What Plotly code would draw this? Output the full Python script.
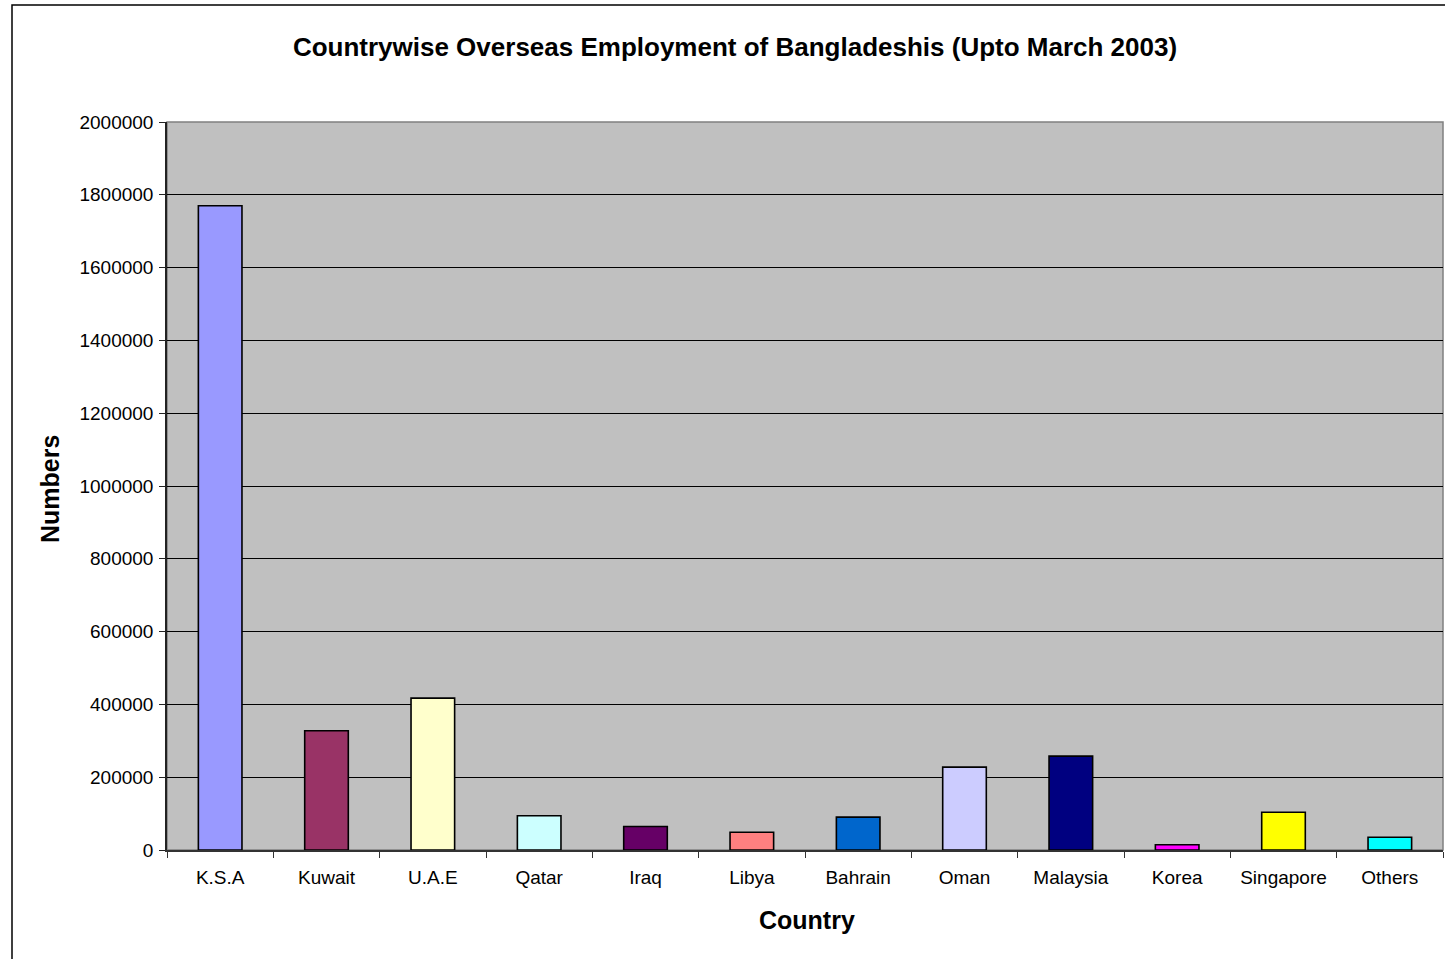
import plotly.graph_objects as go

countries = ["K.S.A", "Kuwait", "U.A.E", "Qatar", "Iraq", "Libya", "Bahrain",
             "Oman", "Malaysia", "Korea", "Singapore", "Others"]
numbers = [1770000, 327700, 417300, 94000, 64600, 48900, 90200,
           227600, 257900, 14300, 103900, 35200]
bar_colors = ["#9999FF", "#993366", "#FFFFCC", "#CCFFFF", "#660066", "#FF8080",
              "#0066CC", "#CCCCFF", "#000080", "#FF00FF", "#FFFF00", "#00FFFF"]
y_ticks = [0, 200000, 400000, 600000, 800000, 1000000, 1200000,
           1400000, 1600000, 1800000, 2000000]

W, H = 1445, 959
L, R, T, B = 167, 2, 122, 109
pw = W - L - R
ph = H - T - B

def px_x(x):
    return (x - L) / pw

def px_y(y):
    return (H - B - y) / ph

font = "Liberation Sans, Arial, sans-serif"

fig = go.Figure(go.Bar(
    x=countries, y=numbers, width=0.41,
    marker=dict(color=bar_colors, line=dict(color="black", width=1.6)),
))

fig.update_layout(
    width=W, height=H,
    margin=dict(l=L, r=R, t=T, b=B),
    paper_bgcolor="white", plot_bgcolor="#C0C0C0",
    showlegend=False,
    font=dict(family=font, color="black", size=19),
    title=dict(text="<b>Countrywise Overseas Employment of Bangladeshis (Upto March 2003)</b>",
               x=px_x(735), xref="paper", xanchor="center",
               y=1 - 47 / H, yref="container", yanchor="middle",
               font=dict(family=font, size=26, color="black")),
    bargap=0.59,
)

fig.update_yaxes(
    range=[0, 2000000], tickvals=y_ticks, ticktext=[str(v) for v in y_ticks],
    showgrid=True, gridcolor="black", gridwidth=1,
    showline=True, linecolor="#222222", linewidth=1.5,
    ticks="outside", ticklen=6, tickcolor="#222222", tickwidth=1.2,
    zeroline=False, tickfont=dict(size=19, family=font), ticklabelstandoff=2,
)
fig.update_xaxes(
    showline=True, linecolor="#333333", linewidth=1.5,
    ticks="outside", ticklen=6, tickcolor="#333333", tickwidth=1.2,
    tickson="boundaries", showgrid=False,
    tickfont=dict(size=19, family=font), ticklabelstandoff=9,
)

# plot area border (top/right gray)
fig.add_shape(type="rect", xref="paper", yref="paper", x0=0, x1=1, y0=0, y1=1,
              line=dict(color="#808080", width=1.5), layer="below")
# outer chart frame
fig.add_shape(type="rect", xref="paper", yref="paper",
              x0=px_x(12), x1=px_x(1452), y0=px_y(966), y1=px_y(5),
              line=dict(color="black", width=1.5))

fig.add_annotation(text="<b>Numbers</b>", xref="paper", yref="paper",
                   x=px_x(50), y=px_y(489), textangle=-90, showarrow=False,
                   xanchor="center", yanchor="middle",
                   font=dict(family=font, size=25, color="black"))
fig.add_annotation(text="<b>Country</b>", xref="paper", yref="paper",
                   x=px_x(807), y=px_y(920), showarrow=False,
                   xanchor="center", yanchor="middle",
                   font=dict(family=font, size=25, color="black"))

fig.write_html("out.html")
